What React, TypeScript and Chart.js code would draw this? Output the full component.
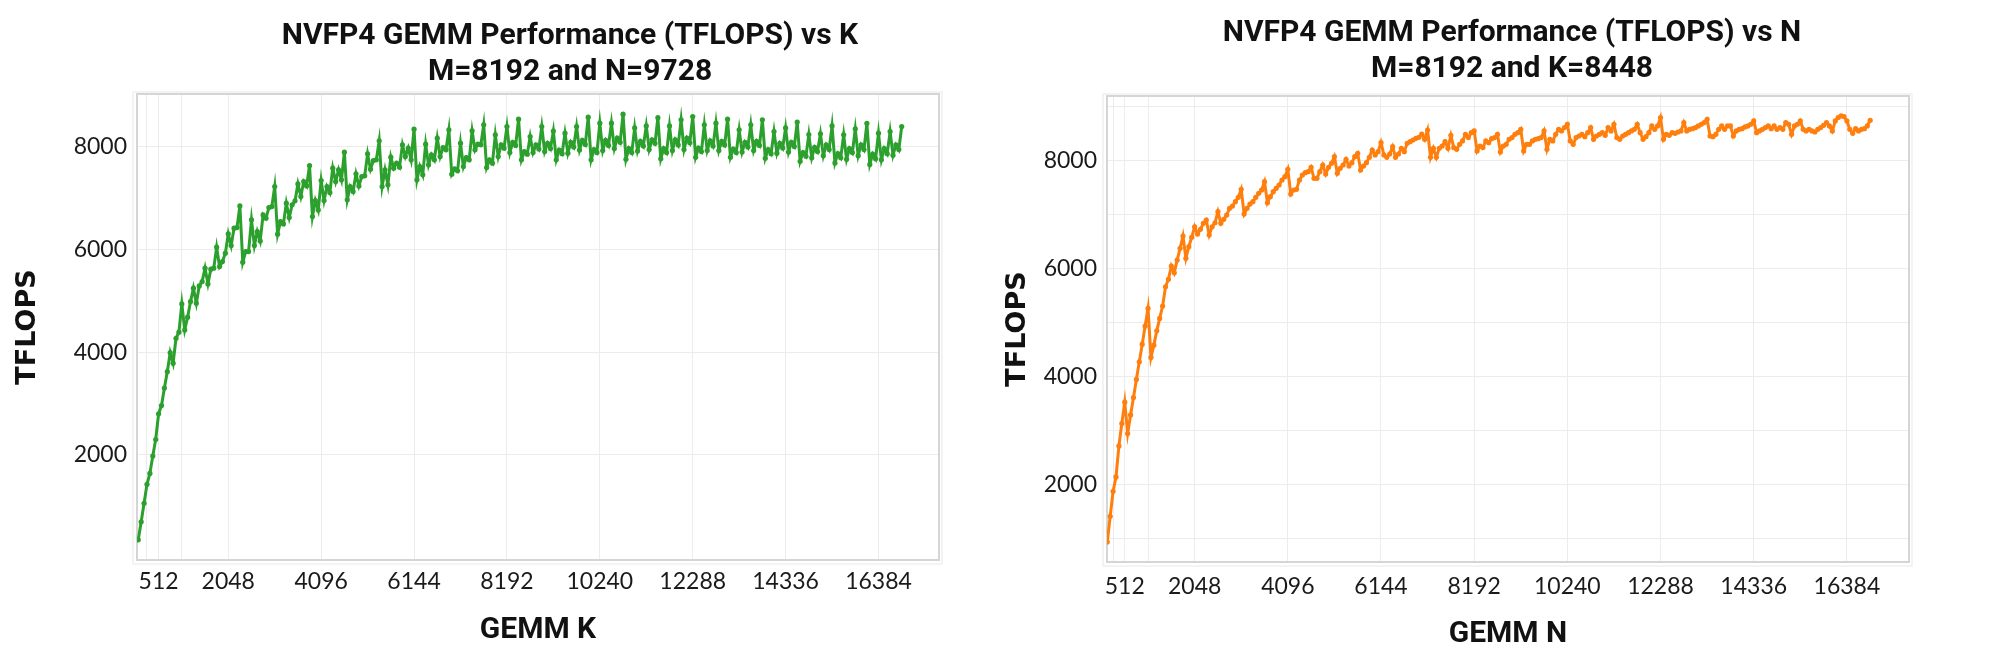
import React, { useEffect, useRef } from 'react';
import { Chart, registerables } from 'chart.js';

Chart.register(...registerables);

// GEMM sizes swept (K for the left chart, N for the right one)
const GEMM_DIM = [
  64, 128, 192, 256, 320, 384, 448, 512, 576, 640, 704, 768, 832, 896, 960, 1024,
  1088, 1152, 1216, 1280, 1344, 1408, 1472, 1536, 1600, 1664, 1728, 1792, 1856, 1920, 1984, 2048,
  2112, 2176, 2240, 2304, 2368, 2432, 2496, 2560, 2624, 2688, 2752, 2816, 2880, 2944, 3008, 3072,
  3136, 3200, 3264, 3328, 3392, 3456, 3520, 3584, 3648, 3712, 3776, 3840, 3904, 3968, 4032, 4096,
  4160, 4224, 4288, 4352, 4416, 4480, 4544, 4608, 4672, 4736, 4800, 4864, 4928, 4992, 5056, 5120,
  5184, 5248, 5312, 5376, 5440, 5504, 5568, 5632, 5696, 5760, 5824, 5888, 5952, 6016, 6080, 6144,
  6208, 6272, 6336, 6400, 6464, 6528, 6592, 6656, 6720, 6784, 6848, 6912, 6976, 7040, 7104, 7168,
  7232, 7296, 7360, 7424, 7488, 7552, 7616, 7680, 7744, 7808, 7872, 7936, 8000, 8064, 8128, 8192,
  8256, 8320, 8384, 8448, 8512, 8576, 8640, 8704, 8768, 8832, 8896, 8960, 9024, 9088, 9152, 9216,
  9280, 9344, 9408, 9472, 9536, 9600, 9664, 9728, 9792, 9856, 9920, 9984, 10048, 10112, 10176, 10240,
  10304, 10368, 10432, 10496, 10560, 10624, 10688, 10752, 10816, 10880, 10944, 11008, 11072, 11136, 11200, 11264,
  11328, 11392, 11456, 11520, 11584, 11648, 11712, 11776, 11840, 11904, 11968, 12032, 12096, 12160, 12224, 12288,
  12352, 12416, 12480, 12544, 12608, 12672, 12736, 12800, 12864, 12928, 12992, 13056, 13120, 13184, 13248, 13312,
  13376, 13440, 13504, 13568, 13632, 13696, 13760, 13824, 13888, 13952, 14016, 14080, 14144, 14208, 14272, 14336,
  14400, 14464, 14528, 14592, 14656, 14720, 14784, 14848, 14912, 14976, 15040, 15104, 15168, 15232, 15296, 15360,
  15424, 15488, 15552, 15616, 15680, 15744, 15808, 15872, 15936, 16000, 16064, 16128, 16192, 16256, 16320, 16384,
  16448, 16512, 16576, 16640, 16704, 16768, 16832, 16896,
];

const K_SIZES = GEMM_DIM;
const N_SIZES = GEMM_DIM.slice(1);

// TFLOPS vs K (M=8192, N=9728)
const K_TFLOPS = [
  350, 700, 1060, 1430, 1640, 1980, 2300, 2800, 2960, 3300, 3620, 3990, 3784, 4270, 4387, 4937,
  4432, 4679, 4983, 5243, 4951, 5288, 5372, 5632, 5327, 5613, 5632, 6041, 5663, 5761, 5924, 6300,
  6072, 6410, 6422, 6844, 5749, 5955, 5955, 6572, 6072, 6344, 6163, 6669, 6605, 6811, 6830, 7220,
  6294, 6539, 6494, 6897, 6617, 6864, 6942, 7272, 7025, 7317, 7233, 7628, 6636, 6947, 6766, 7336,
  6947, 7220, 7103, 7578, 7317, 7545, 7350, 7889, 6961, 7220, 7123, 7467, 7233, 7414, 7428, 7856,
  7558, 7726, 7739, 8109, 7220, 7545, 7253, 7792, 7578, 7675, 7597, 8031, 7803, 7967, 7739, 8336,
  7350, 7609, 7448, 8045, 7642, 7836, 7739, 8161, 7803, 7978, 7934, 8323, 7461, 7564, 7525, 8064,
  7609, 7784, 7739, 8303, 7934, 8045, 8031, 8420, 7590, 7739, 7675, 8226, 7803, 8031, 7967, 8387,
  7880, 8080, 8020, 8531, 7739, 7900, 7850, 8193, 7880, 8030, 7950, 8387, 7900, 8060, 7960, 8300,
  7740, 7930, 7860, 8258, 7870, 8080, 7990, 8387, 7930, 8120, 8040, 8570, 7740, 7940, 7880, 8453,
  7920, 8120, 8020, 8453, 7960, 8160, 8080, 8628, 7750, 7960, 7880, 8360, 7910, 8100, 8010, 8400,
  7940, 8130, 8060, 8560, 7760, 7960, 7880, 8400, 7920, 8130, 8030, 8517, 7940, 8160, 8070, 8580,
  7790, 7970, 7900, 8420, 7920, 8110, 8010, 8453, 7920, 8100, 8030, 8530, 7790, 7950, 7880, 8323,
  7890, 8080, 7990, 8420, 7920, 8100, 8020, 8517, 7770, 7940, 7860, 8290, 7870, 8060, 7970, 8360,
  7890, 8080, 8000, 8475, 7710, 7880, 7810, 8230, 7780, 7980, 7900, 8245, 7820, 8030, 7940, 8400,
  7680, 7860, 7780, 8226, 7750, 7960, 7880, 8340, 7820, 8030, 7940, 8450, 7650, 7850, 7760, 8258,
  7740, 7960, 7860, 8290, 7830, 8030, 7940, 8387,
];

// TFLOPS vs N (M=8192, K=8448)
const N_TFLOPS = [
  937, 1413, 1876, 2141, 2715, 3130, 3524, 2945, 3289, 3611, 3945, 4271, 4598, 4932, 5260,
  4352, 4580, 4845, 5074, 5302, 5660, 5797, 6043, 5919, 6154, 6371, 6599, 6186, 6401, 6575, 6771,
  6636, 6723, 6834, 6895, 6617, 6771, 6845, 7049, 6834, 6908, 6988, 7111, 7154, 7234, 7315, 7463,
  7006, 7111, 7191, 7234, 7315, 7389, 7451, 7604, 7215, 7327, 7420, 7481, 7543, 7636, 7697, 7834,
  7376, 7451, 7463, 7636, 7728, 7772, 7790, 7871, 7666, 7666, 7790, 7913, 7747, 7871, 7944, 8067,
  7759, 7852, 7913, 8018, 7895, 7957, 8067, 8130, 7821, 7895, 7957, 8055, 8191, 8100, 8160, 8327,
  8100, 8055, 8117, 8253, 8055, 8117, 8222, 8160, 8314, 8345, 8376, 8407, 8425, 8487, 8388, 8561,
  8055, 8222, 8055, 8222, 8265, 8345, 8222, 8462, 8235, 8204, 8296, 8358, 8481, 8420, 8512, 8543,
  8173, 8265, 8235, 8358, 8327, 8401, 8420, 8481, 8155, 8265, 8296, 8389, 8420, 8481, 8512, 8574,
  8173, 8296, 8296, 8358, 8389, 8401, 8420, 8543, 8204, 8389, 8358, 8481, 8574, 8543, 8605, 8667,
  8358, 8296, 8420, 8450, 8481, 8438, 8512, 8605, 8389, 8450, 8481, 8512, 8462, 8605, 8543, 8667,
  8420, 8389, 8450, 8481, 8512, 8543, 8574, 8667, 8512, 8389, 8438, 8512, 8636, 8574, 8636, 8790,
  8389, 8481, 8462, 8512, 8500, 8524, 8543, 8698, 8543, 8574, 8586, 8605, 8636, 8667, 8698, 8759,
  8450, 8438, 8481, 8574, 8636, 8574, 8636, 8636, 8450, 8543, 8574, 8586, 8617, 8636, 8667, 8729,
  8512, 8543, 8574, 8605, 8636, 8586, 8636, 8574, 8605, 8574, 8698, 8667, 8481, 8636, 8667, 8729,
  8574, 8543, 8574, 8543, 8524, 8574, 8605, 8648, 8698, 8636, 8543, 8729, 8790, 8821, 8809, 8729,
  8574, 8500, 8586, 8543, 8574, 8586, 8636, 8741,
];

// Axis ticks
const X_GRID_TICKS = [256, 512, 1024, 2048, 4096, 6144, 8192, 10240, 12288, 14336, 16384];
const X_LABELED_TICKS = [512, 2048, 4096, 6144, 8192, 10240, 12288, 14336, 16384];
const K_Y_TICKS = [2000, 4000, 6000, 8000];
const N_Y_TICKS = [1000, 2000, 3000, 4000, 5000, 6000, 7000, 8000, 9000];
const Y_LABELED_TICKS = [2000, 4000, 6000, 8000];

const TITLE_FONT = "Roboto, 'Liberation Sans', sans-serif";
const TICK_FONT = "Lato, 'Open Sans', sans-serif";
const YTITLE_FONT = "'DejaVu Sans', sans-serif";

const framePlugin = {
  id: 'plotFrame',
  beforeDatasetsDraw(chart: any) {
    const { ctx, chartArea: a } = chart;
    ctx.save();
    ctx.strokeStyle = '#f0f0f0';
    ctx.lineWidth = 1.5;
    ctx.strokeRect(a.left - 4, a.top - 2, a.right - a.left + 7, a.bottom - a.top + 6);
    ctx.strokeStyle = '#d5d5d5';
    ctx.lineWidth = 2;
    ctx.strokeRect(a.left, a.top, a.right - a.left, a.bottom - a.top);
    ctx.restore();
  },
};

type Spec = {
  left: number;
  width: number;
  titleLines: string[];
  titlePadTop: number;
  titlePadBottom: number;
  xTitle: string;
  color: string;
  xs: number[];
  ys: number[];
  xMin: number;
  xMax: number;
  yMin: number;
  yMax: number;
  yTicks: number[];
  yAxisWidth: number;
  rightPad: number;
  xAxisHeight: number;
  xTickPad: number;
  xTitlePadBottom: number;
};

function GemmChart({ spec }: { spec: Spec }) {
  const ref = useRef<HTMLCanvasElement | null>(null);
  useEffect(() => {
    if (!ref.current) return;
    const chart = new Chart(ref.current, {
      type: 'line',
      data: {
        datasets: [
          {
            data: spec.xs.map((x, i) => ({ x, y: spec.ys[i] })),
            borderColor: spec.color,
            backgroundColor: spec.color,
            borderWidth: 3,
            pointRadius: 2.6,
            pointBorderWidth: 0,
            pointBackgroundColor: spec.color,
            tension: 0,
          },
        ],
      },
      options: {
        responsive: false,
        animation: false,
        layout: { padding: 0 },
        plugins: {
          legend: { display: false },
          tooltip: { enabled: false },
          title: {
            display: true,
            text: spec.titleLines,
            color: '#111',
            font: { family: TITLE_FONT, size: 30, weight: 'bold', lineHeight: 1.2 },
            padding: { top: spec.titlePadTop, bottom: spec.titlePadBottom },
          },
        },
        scales: {
          x: {
            type: 'linear',
            min: spec.xMin,
            max: spec.xMax,
            afterBuildTicks: (s: any) => {
              s.ticks = X_GRID_TICKS.map((v) => ({ value: v }));
            },
            afterFit: (s: any) => {
              s.height = spec.xAxisHeight;
            },
            ticks: {
              autoSkip: false,
              maxRotation: 0,
              minRotation: 0,
              padding: spec.xTickPad,
              color: '#1a1a1a',
              font: { family: TICK_FONT, size: 23 },
              callback: (v: any) => (X_LABELED_TICKS.includes(Number(v)) ? String(v) : ''),
            },
            grid: { color: '#ececec', lineWidth: 1, drawTicks: false },
            border: { display: false },
            title: {
              display: true,
              text: spec.xTitle,
              color: '#111',
              font: { family: TITLE_FONT, size: 30, weight: 'bold', lineHeight: 1.2 },
              padding: { top: 0, bottom: spec.xTitlePadBottom },
            },
          },
          y: {
            type: 'linear',
            min: spec.yMin,
            max: spec.yMax,
            afterBuildTicks: (s: any) => {
              s.ticks = spec.yTicks.map((v) => ({ value: v }));
            },
            afterFit: (s: any) => {
              s.width = spec.yAxisWidth;
            },
            ticks: {
              padding: 10,
              color: '#1a1a1a',
              font: { family: TICK_FONT, size: 23 },
              callback: (v: any) => (Y_LABELED_TICKS.includes(Number(v)) ? String(v) : ''),
            },
            grid: { color: '#ececec', lineWidth: 1, drawTicks: false },
            border: { display: false },
            title: {
              display: true,
              text: 'TFLOPS',
              color: '#111',
              font: { family: YTITLE_FONT, size: 27, weight: 'bold', lineHeight: 1.2 },
              padding: { top: 12, bottom: 0 },
            },
          },
          pad: {
            type: 'linear',
            position: 'right',
            display: true,
            grid: { display: false },
            border: { display: false },
            ticks: { display: false },
            afterFit: (s: any) => {
              s.width = spec.rightPad;
            },
          },
        },
      } as any,
      plugins: [framePlugin],
    });
    return () => chart.destroy();
  }, [spec]);
  return (
    <canvas
      ref={ref}
      width={spec.width}
      height={671}
      style={{ position: 'absolute', left: spec.left, top: 0 }}
    />
  );
}

const LEFT_SPEC: Spec = {
  left: 0,
  width: 1140,
  titleLines: ['NVFP4 GEMM Performance (TFLOPS) vs K', 'M=8192 and N=9728'],
  titlePadTop: 18,
  titlePadBottom: 4,
  xTitle: 'GEMM K',
  color: '#2ca02c',
  xs: K_SIZES,
  ys: K_TFLOPS,
  xMin: 36,
  xMax: 17718,
  yMin: -43,
  yMax: 9020,
  yTicks: K_Y_TICKS,
  yAxisWidth: 137,
  rightPad: 201,
  xAxisHeight: 111,
  xTickPad: 8,
  xTitlePadBottom: 23,
};

const RIGHT_SPEC: Spec = {
  left: 990,
  width: 1044,
  titleLines: ['NVFP4 GEMM Performance (TFLOPS) vs N', 'M=8192 and K=8448'],
  titlePadTop: 15,
  titlePadBottom: 9,
  xTitle: 'GEMM N',
  color: '#ff7f0e',
  xs: N_SIZES,
  ys: N_TFLOPS,
  xMin: 122,
  xMax: 17749,
  yMin: 567,
  yMax: 9190,
  yTicks: N_Y_TICKS,
  yAxisWidth: 117,
  rightPad: 125,
  xAxisHeight: 109,
  xTickPad: 11,
  xTitlePadBottom: 19,
};

export default function App() {
  return (
    <div
      style={{
        position: 'fixed',
        left: 0,
        top: 0,
        width: 1999,
        height: 671,
        overflow: 'hidden',
        background: '#ffffff',
      }}
    >
      <GemmChart spec={LEFT_SPEC} />
      <GemmChart spec={RIGHT_SPEC} />
    </div>
  );
}
